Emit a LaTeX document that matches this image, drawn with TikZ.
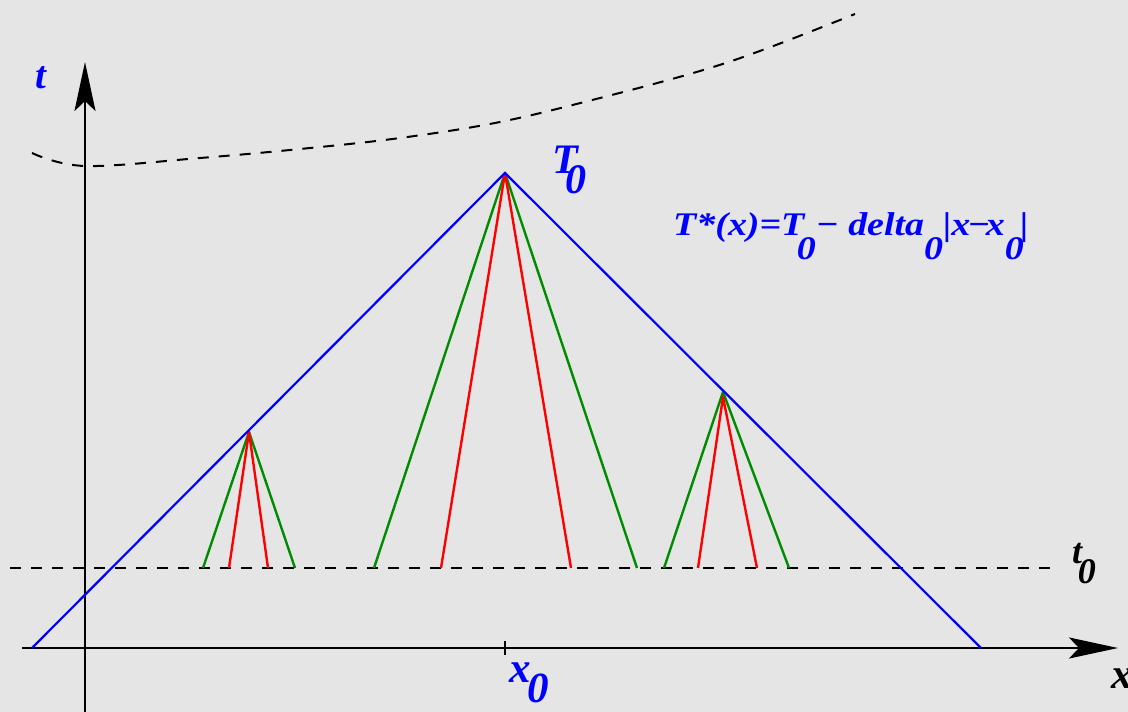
\documentclass[tikz,border=0pt]{standalone}
\usepackage{fontspec}
\setmainfont{Liberation Serif}
\usetikzlibrary{arrows.meta}
\definecolor{bgc}{gray}{0.898}
\definecolor{lblue}{rgb}{0,0,1}
\definecolor{lgreen}{rgb}{0,0.55,0}
\definecolor{lred}{rgb}{1,0,0}
\tikzset{
  axis/.style={line width=2.6pt,black},
  axisarrow/.style={-{Stealth[length=49pt,width=21pt,inset=10pt]}},
  dashline/.style={line width=2pt,black,dash pattern=on 11pt off 10pt},
  bluel/.style={line width=2.2pt,lblue},
  greenl/.style={line width=2.4pt,lgreen,line join=round},
  redl/.style={line width=2.4pt,lred,line join=round},
  lbl/.style={lblue,inner sep=0pt,anchor=base west,font=\bfseries\itshape},
  blbl/.style={black,inner sep=0pt,anchor=base west,font=\bfseries\itshape},
}
\begin{document}
\begin{tikzpicture}[x=1pt,y=-1pt]
\fill[bgc] (0,0) rectangle (1128,712);
\useasboundingbox (0,0) rectangle (1128,712);
% coordinates
\coordinate (ybot) at (85,712);
\coordinate (ytop) at (85,62);
\coordinate (xl) at (22,648);
\coordinate (xr) at (1118,648);
\coordinate (L) at (32,648);
\coordinate (A) at (505,173);
\coordinate (R) at (981,648);
\coordinate (t0l) at (10,568);
\coordinate (t0r) at (1056,568);
\coordinate (tickT) at (505,641);
\coordinate (tickB) at (505,655);
% left cone
\coordinate (LA) at (249,432);
\coordinate (LG1) at (203,568);
\coordinate (LR1) at (229,568);
\coordinate (LR2) at (268,568);
\coordinate (LG2) at (295,568);
% central cone
\coordinate (CG1) at (374,568);
\coordinate (CR1) at (441,568);
\coordinate (CR2) at (571,568);
\coordinate (CG2) at (637,568);
% right cone
\coordinate (RAg) at (723,392);
\coordinate (RAr) at (723,397);
\coordinate (RG1) at (664,568);
\coordinate (RR1) at (698,568);
\coordinate (RR2) at (757,568);
\coordinate (RG2) at (789,568);
% dashed curve
\draw[dashline] plot[smooth,tension=0.6] coordinates {(32,153) (85,166) (200,158) (300,149) (400,138) (500,122) (600,98) (700,71) (768,48) (855,14)};
% t0 dashed line
\draw[dashline] (t0l) -- (t0r);
% axes
\draw[axis,axisarrow] (ybot) -- (ytop);
\draw[axis,axisarrow] (xl) -- (xr);
\draw[line width=2pt] (tickT) -- (tickB);
% green lines
\draw[greenl] (LG1) -- (LA) -- (LG2);
\draw[greenl] (CG1) -- (A) -- (CG2);
\draw[greenl] (RG1) -- (RAg) -- (RG2);
% red lines
\draw[redl] (LR1) -- (LA) -- (LR2);
\draw[redl] (CR1) -- (A) -- (CR2);
\draw[redl] (RR1) -- (RAr) -- (RR2);
% blue
\draw[bluel,line join=miter] (L) -- (A) -- (R);
% labels
\node[lbl,font=\fontsize{39}{39}\selectfont\bfseries\itshape] (tlab) at (35,88) {t};
\node[lbl,font=\fontsize{42}{42}\selectfont\bfseries\itshape] (T0lab) at (552,173) {T\kern-0.3em\raisebox{-20pt}{0}};
\node[lbl,font=\fontsize{33}{33}\selectfont\bfseries\itshape] (formula) at (673,235) {\scalebox{1.15}[1]{T*(x)=T\kern-0.2em\raisebox{-24pt}{0}−\ delta\raisebox{-24pt}{0}|x\kern-0.08em−\kern-0.12em x\raisebox{-24pt}{0}\kern-0.1em|}};
\node[blbl,font=\fontsize{36}{36}\selectfont\bfseries\itshape] (t0lab) at (1072,563) {t\kern-0.12em\raisebox{-20pt}{0}};
\node[lbl,font=\fontsize{43}{43}\selectfont\bfseries\itshape] (x0lab) at (509,682) {x\kern-0.08em\raisebox{-20pt}{0}};
\node[blbl,font=\fontsize{43}{43}\selectfont\bfseries\itshape] (xlab) at (1111,688) {x};
\end{tikzpicture}
\end{document}
